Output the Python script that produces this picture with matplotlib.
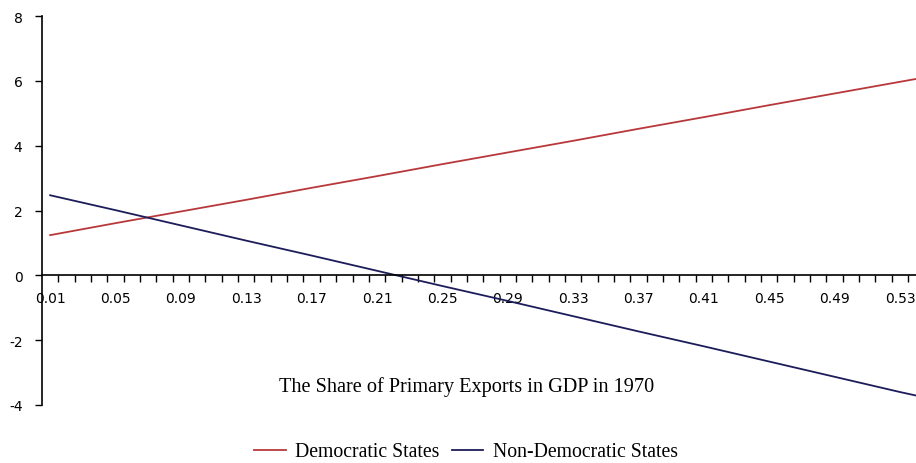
import numpy as np
import matplotlib
matplotlib.use("Agg")
import matplotlib.pyplot as plt
from matplotlib.ticker import FixedLocator, NullFormatter


# share of primary exports (category axis, step 0.01)
share = [0.01, 0.05, 0.09, 0.13, 0.17, 0.21, 0.25, 0.29, 0.33, 0.37, 0.41, 0.45, 0.49, 0.53, 0.54]

democratic = [1.24, 1.61, 1.97, 2.33, 2.70, 3.06, 3.43, 3.79, 4.15, 4.52, 4.88, 5.25, 5.61, 5.97, 6.06]
non_democratic = [2.47, 2.01, 1.54, 1.07, 0.61, 0.14, -0.33, -0.79, -1.26, -1.73, -2.19, -2.66, -3.13, -3.60, -3.71]

x_labels = ["0.01", "0.05", "0.09", "0.13", "0.17", "0.21", "0.25",
            "0.29", "0.33", "0.37", "0.41", "0.45", "0.49", "0.53"]
y_ticks = [-4, -2, 0, 2, 4, 6, 8]

RED = "#b8383a"
NAVY = "#1c1c5a"

fig = plt.figure(figsize=(9.16, 4.64), dpi=100)
ax = fig.add_axes([42 / 916, 58 / 464, 1 - 42 / 916, 389 / 464])

ax.plot(share, democratic, color=RED, lw=1.3, label="Democratic States")
ax.plot(share, non_democratic, color=NAVY, lw=1.3, label="Non-Democratic States")

ax.set_xlim(0.005, 0.5398)
ax.set_ylim(-4, 8)

for side in ["top", "right"]:
    ax.spines[side].set_visible(False)
ax.spines["bottom"].set_position(("data", 0))
ax.spines["left"].set_linewidth(1.2)
ax.spines["bottom"].set_linewidth(1.2)

# ticks between the categories, labels on the categories
bounds = np.arange(0.015, 0.54, 0.01)
ax.xaxis.set_minor_locator(FixedLocator(bounds))
ax.xaxis.set_minor_formatter(NullFormatter())
ax.set_xticks([float(s) for s in x_labels])
ax.set_xticklabels(x_labels, fontfamily="DejaVu Sans", fontsize=10)
ax.tick_params(axis="x", which="major", length=0, pad=11)
ax.tick_params(axis="x", which="minor", direction="out", length=5, width=1)

ax.set_yticks(y_ticks)
ax.set_yticklabels([str(v) for v in y_ticks], fontfamily="DejaVu Sans", fontsize=10)
ax.tick_params(axis="y", direction="out", length=5, width=1, pad=9)

fig.text(467 / 916, 1 - 387 / 464, "The Share of Primary Exports in GDP in 1970",
         ha="center", va="center", fontfamily="Liberation Serif", fontsize=14.6)

fig.legend(loc="center", bbox_to_anchor=(466 / 916, 1 - 453 / 464), ncol=2,
           frameon=False, prop={"family": "Liberation Serif", "size": 14.2},
           handlelength=1.6, handletextpad=0.5, columnspacing=0.6)

fig.savefig("out.png", dpi=100)
